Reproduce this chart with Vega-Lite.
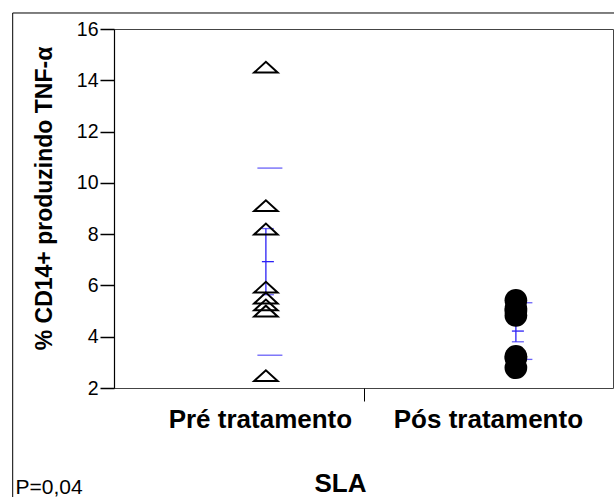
{
  "$schema": "https://vega.github.io/schema/vega-lite/v6.json",
  "width": 499,
  "height": 359,
  "autosize": {"type": "none"},
  "padding": {"left": 114, "top": 29, "right": 1, "bottom": 109},
  "background": "white",
  "config": {
    "view": {"stroke": "#444444", "strokeWidth": 1},
    "font": "Liberation Sans",
    "axis": {"grid": false, "labelColor": "black", "titleColor": "black"}
  },
  "datasets": {
    "cd14": [
      {"grupo": "Pré tratamento", "valor": 14.44},
      {"grupo": "Pré tratamento", "valor": 9.04},
      {"grupo": "Pré tratamento", "valor": 8.13},
      {"grupo": "Pré tratamento", "valor": 5.86},
      {"grupo": "Pré tratamento", "valor": 5.44},
      {"grupo": "Pré tratamento", "valor": 5.17},
      {"grupo": "Pré tratamento", "valor": 4.93},
      {"grupo": "Pré tratamento", "valor": 2.41},
      {"grupo": "Pós tratamento", "valor": 5.42},
      {"grupo": "Pós tratamento", "valor": 5.1},
      {"grupo": "Pós tratamento", "valor": 5.0},
      {"grupo": "Pós tratamento", "valor": 4.83},
      {"grupo": "Pós tratamento", "valor": 3.23},
      {"grupo": "Pós tratamento", "valor": 3.17},
      {"grupo": "Pós tratamento", "valor": 2.79}
    ]
  },
  "layer": [
    {
      "data": {"name": "cd14"},
      "encoding": {
        "x": {
          "field": "grupo",
          "type": "nominal",
          "scale": {"type": "point", "domain": ["Pré tratamento", "Pós tratamento"], "padding": 0.498, "align": 0.61},
          "axis": {
            "orient": "bottom",
            "domain": false,
            "ticks": false,
            "tickSize": 0,
            "labelAngle": 0,
            "labelFontSize": 26,
            "labelFontWeight": "bold",
            "labelFont": "Liberation Sans",
            "labelBaseline": "alphabetic",
            "labelPadding": 39,
            "labelLimit": 0,
            "labelColor": "black",
            "labelOffset": {"condition": {"test": "datum.value === 'Pós tratamento'", "value": -28}, "value": -6},
            "title": "SLA",
            "titleFontSize": 26,
            "titleFontWeight": "bold",
            "titleFont": "Liberation Sans",
            "titleX": 226,
            "titleY": 103.5,
            "titleAlign": "center",
            "titleBaseline": "alphabetic",
            "titleColor": "black"
          }
        },
        "y": {
          "field": "valor",
          "type": "quantitative",
          "scale": {"domain": [2, 16], "nice": false, "zero": false},
          "axis": {
            "values": [2, 4, 6, 8, 10, 12, 14, 16],
            "tickSize": 14,
            "tickWidth": 1.5,
            "tickColor": "black",
            "domainColor": "black",
            "domainWidth": 1.2,
            "labelFontSize": 19.5,
            "labelPadding": 2,
            "labelFlush": false,
            "labelFont": "Liberation Sans",
            "labelColor": "black",
            "title": "% CD14+ produzindo TNF-α",
            "titleFontSize": 23,
            "titleFontWeight": "bold",
            "titleFont": "Liberation Sans",
            "titleAngle": 270,
            "titleX": -63,
            "titleY": 169,
            "titleAlign": "center",
            "titleBaseline": "alphabetic",
            "titleColor": "black"
          }
        }
      },
      "layer": [
        {
          "transform": [{"fold": ["valor"], "as": ["medida", "valor_dp"]}],
          "mark": {"type": "errorbar", "extent": "stdev", "rule": false, "ticks": {"size": 25, "xOffset": 4, "thickness": 1.3}, "color": "#2b20f5", "thickness": 1.3},
          "encoding": {"y": {"field": "valor_dp", "type": "quantitative"}}
        },
        {
          "mark": {"type": "errorbar", "extent": "stderr", "ticks": {"size": 12, "xOffset": 2, "thickness": 1.3}, "color": "#2b20f5", "thickness": 1.3}
        },
        {
          "mark": {"type": "tick", "orient": "horizontal", "size": 12, "thickness": 1.3, "xOffset": 2, "color": "#2b20f5"},
          "encoding": {"y": {"aggregate": "mean", "field": "valor", "type": "quantitative"}}
        },
        {
          "transform": [{"filter": "datum.grupo === 'Pré tratamento'"}],
          "mark": {"type": "point", "shape": "M-1,0.307L1,0.307L0,-0.613Z", "size": 552, "filled": false, "stroke": "black", "strokeWidth": 2, "opacity": 1}
        },
        {
          "transform": [{"filter": "datum.grupo === 'Pós tratamento'"}],
          "mark": {"type": "point", "shape": "circle", "size": 515, "filled": true, "color": "black", "opacity": 1}
        }
      ]
    },
    {
      "data": {"values": [{}]},
      "mark": {"type": "rect", "filled": false, "stroke": "black", "strokeWidth": 1},
      "encoding": {
        "x": {
          "datum": -0.203,
          "type": "quantitative",
          "scale": {"domain": [0, 1], "nice": false, "zero": false},
          "axis": {
            "orient": "bottom",
            "values": [0.5],
            "domain": false,
            "labels": false,
            "ticks": true,
            "tickSize": 13,
            "tickColor": "black",
            "tickWidth": 1,
            "grid": false,
            "title": "P=0,04",
            "titleFontSize": 21,
            "titleFontWeight": "normal",
            "titleFont": "Liberation Sans",
            "titleX": -99,
            "titleY": 105,
            "titleAlign": "left",
            "titleBaseline": "alphabetic",
            "titleColor": "black"
          }
        },
        "x2": {"datum": 1.5},
        "y": {"datum": 16.624, "type": "quantitative"},
        "y2": {"datum": -5}
      }
    }
  ],
  "resolve": {"scale": {"x": "independent"}, "axis": {"x": "independent"}}
}
